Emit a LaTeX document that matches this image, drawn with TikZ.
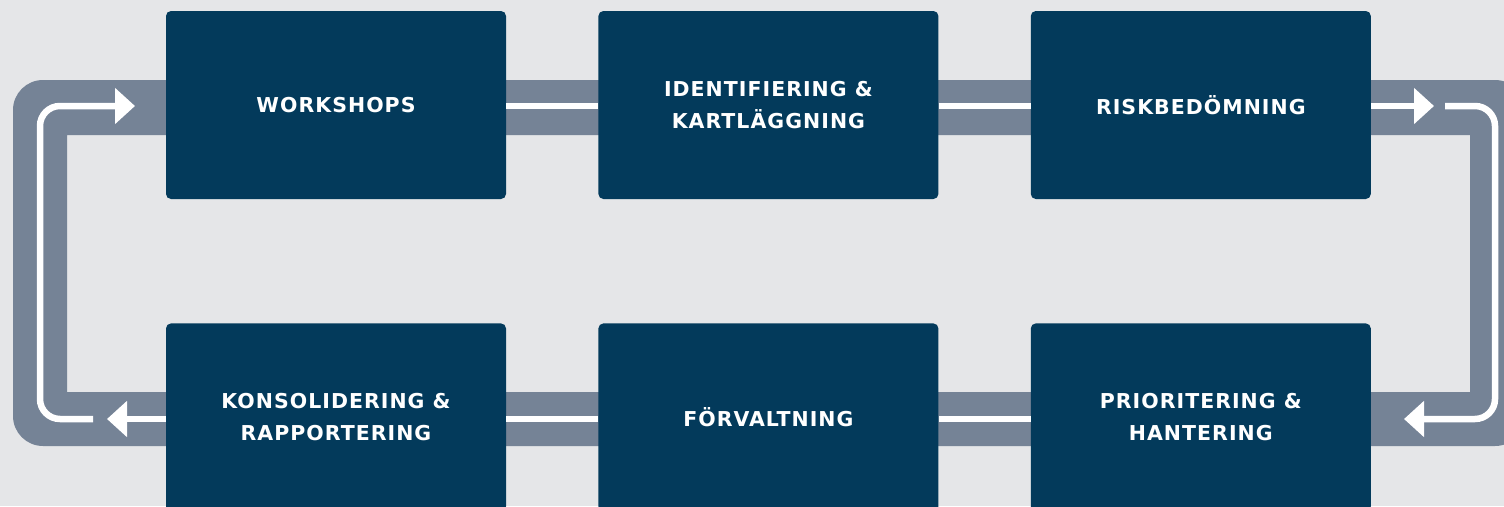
\documentclass[tikz,border=0pt]{standalone}
\usepackage{fontspec}
\usepackage{tikz}
\newfontfamily\stagefont[LetterSpace=5]{DejaVu Sans}
\usetikzlibrary{arrows.meta}
\usetikzlibrary{positioning}
\definecolor{mnavy}{RGB}{3, 58, 91}
\definecolor{mband}{RGB}{117, 131, 150}
\definecolor{mbg}{RGB}{229, 230, 232}
\tikzset{stage/.style = {fill=mnavy, rounded corners=5pt,
                         minimum width=340pt, minimum height=188pt,
                         text=white, align=center,
                         font=\stagefont\bfseries\fontsize{20.5}{32}\selectfont}}
\tikzset{flow/.style = {draw=white, line width=6.5pt, rounded corners=20pt}}
\tikzset{flowtip/.style = {flow, -{Triangle[length=20pt, width=35pt]}}}

\begin{document}
\begin{tikzpicture}[x=1pt, y=-1pt]
    \fill [mbg] (0, 0) rectangle (1504, 506);
    \useasboundingbox (0, 0) rectangle (1504, 506);
    \clip (0, 0) rectangle (1504, 506);

    \fill [mband, even odd rule] [rounded corners=30pt] (13, 80) rectangle (1525, 446)
          [sharp corners] (67, 135) rectangle (1470, 392);

    \node [stage] (work) at (336, 105) {WORKSHOPS};
    \node [stage, right=92pt of work] (ident) {IDENTIFIERING \&\\KARTLÄGGNING};
    \node [stage, right=92pt of ident] (risk) {RISKBEDÖMNING};
    \node [stage, below=124pt of work] (kons) {KONSOLIDERING \&\\RAPPORTERING};
    \node [stage, right=92pt of kons] (forv) {FÖRVALTNING};
    \node [stage, right=92pt of forv] (prio) {PRIORITERING \&\\HANTERING};

    \coordinate (rtip) at (1434, 106);
    \coordinate (ra) at (1445, 106);
    \coordinate (rb) at (1495, 106);
    \coordinate (rc) at (1495, 419);
    \coordinate (rd) at (1404, 419);
    \coordinate (ltip) at (107, 419);
    \coordinate (lb) at (93, 419);
    \coordinate (lc) at (40, 419);
    \coordinate (ld) at (40, 106);
    \coordinate (le) at (135, 106);

    \draw [flow] (work.east |- rtip) -- (ident.west |- rtip);
    \draw [flow] (ident.east |- rtip) -- (risk.west |- rtip);
    \draw [flowtip] (risk.east |- rtip) -- (rtip);
    \draw [flowtip] (ra) -- (rb) -- (rc) -- (rd);
    \draw [flow] (rd -| prio.west) -- (forv.east |- rd);
    \draw [flow] (forv.west |- rd) -- (kons.east |- rd);
    \draw [flowtip] (kons.west |- rd) -- (ltip);
    \draw [flowtip] (lb) -- (lc) -- (ld) -- (le);
\end{tikzpicture}
\end{document}
